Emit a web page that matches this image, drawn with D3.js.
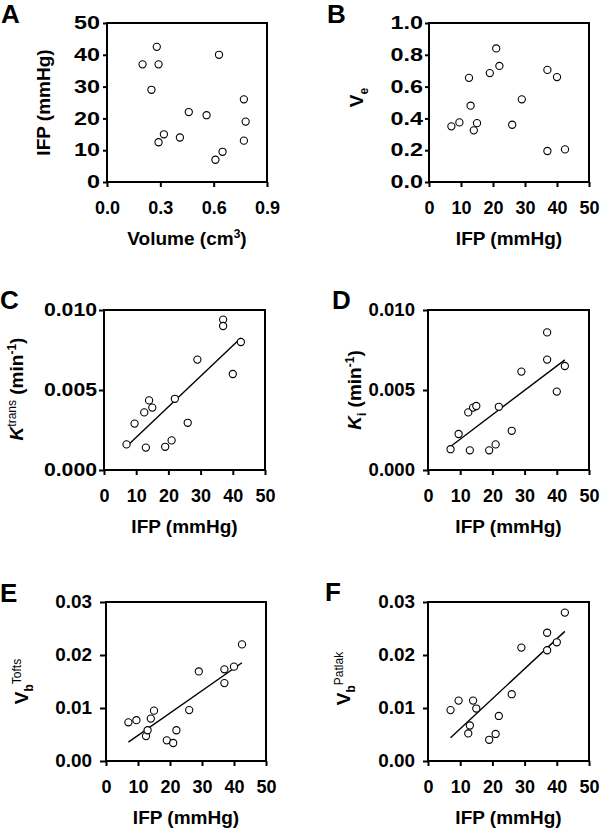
<!DOCTYPE html>
<html>
<head>
<meta charset="utf-8">
<script src="https://cdn.jsdelivr.net/npm/d3@7"></script>
<style>
  body { margin: 0; background: #fff; }
  svg { display: block; font-family: "Liberation Sans", Arial, sans-serif; }
</style>
</head>
<body>
<svg id="chart" width="600" height="829"></svg>
<script>
// IFP (mmHg) for the 15 tumours, shared x values of panels B-F
const ifp = [7, 9.5, 12.5, 13, 14, 15, 19, 21, 22, 26, 29, 37, 37, 40, 42.5];
// panel A: tumour volume (cm3)
const volume = [0.61, 0.65, 0.29, 0.77, 0.41, 0.32, 0.78, 0.56, 0.46, 0.77, 0.25, 0.20, 0.29, 0.63, 0.28];
// panel B-F y values, same order as ifp
const ve = [0.35, 0.375, 0.655, 0.48, 0.325, 0.37, 0.685, 0.84, 0.73, 0.36, 0.52, 0.705, 0.195, 0.66, 0.205];
const ktrans = [0.0016, 0.0029, 0.0036, 0.0014, 0.00435, 0.0039, 0.00145, 0.00185, 0.00445, 0.00295, 0.0069, 0.0094, 0.0090, 0.0060, 0.0080];
const ki = [0.0013, 0.00225, 0.0036, 0.00123, 0.0039, 0.0040, 0.00123, 0.0016, 0.00395, 0.00245, 0.00615, 0.0086, 0.0069, 0.0049, 0.0065];
const vbTofts = [0.0073, 0.0077, 0.0047, 0.0058, 0.0080, 0.0095, 0.0039, 0.0034, 0.0058, 0.0096, 0.0169, 0.0173, 0.0147, 0.0178, 0.0220];
const vbPatlak = [0.0096, 0.0114, 0.0052, 0.0067, 0.0114, 0.0099, 0.0040, 0.0051, 0.0085, 0.0126, 0.0214, 0.0242, 0.0209, 0.0224, 0.0280];

// tick values
const volumeTicks = [0, 0.3, 0.6, 0.9];
const ifpTicks = [0, 10, 20, 30, 40, 50];
const ifpYTicks = [0, 10, 20, 30, 40, 50];
const veTicks = [0, 0.2, 0.4, 0.6, 0.8, 1.0];
const kTicks = [0, 0.005, 0.010];
const vbTicks = [0, 0.01, 0.02, 0.03];

const svg = d3.select('#chart');

const panels = [
  { letter: 'A', lx: 1, ly: 22, box: [107, 23, 160, 159], x: volume, y: ifp,
    xDom: [0, 0.9], xTicks: volumeTicks, xFmt: '.1f', yDom: [0, 50], yTicks: ifpYTicks, yFmt: 'd',
    ytick: 4, ypad: 3, ystretch: 1.3, fit: false,
    xTitle: [{ t: 'Volume (cm' }, { t: '3', sup: true }, { t: ')' }],
    yTitle: [{ t: 'IFP (mmHg)' }], ytx: 50, ytShift: 0 },
  { letter: 'B', lx: 327, ly: 22, box: [429, 23, 160, 159], x: ifp, y: ve,
    xDom: [0, 50], xTicks: ifpTicks, xFmt: 'd', yDom: [0, 1], yTicks: veTicks, yFmt: '.1f',
    ytick: 4, ypad: 2, ystretch: 1.3, fit: false,
    xTitle: [{ t: 'IFP (mmHg)' }],
    yTitle: [{ t: 'V' }, { t: 'e', sub: true }], ytx: 363, ytShift: -5 },
  { letter: 'C', lx: 0, ly: 308, box: [104, 310, 161, 160], x: ifp, y: ktrans,
    xDom: [0, 50], xTicks: ifpTicks, xFmt: 'd', yDom: [0, 0.01], yTicks: kTicks, yFmt: '.3f',
    ytick: 5, ypad: 2, ystretch: 1.18, fit: true,
    xTitle: [{ t: 'IFP (mmHg)' }],
    yTitle: [{ t: 'K', it: true }, { t: 'trans', sup: true, light: true }, { t: ' (min' }, { t: '-1', sup: true }, { t: ')' }],
    ytx: 23, ytShift: -1 },
  { letter: 'D', lx: 332, ly: 308, box: [428, 310, 161, 160], x: ifp, y: ki,
    xDom: [0, 50], xTicks: ifpTicks, xFmt: 'd', yDom: [0, 0.01], yTicks: kTicks, yFmt: '.3f',
    ytick: 5, ypad: 8, ystretch: 1.03, fit: true,
    xTitle: [{ t: 'IFP (mmHg)' }],
    yTitle: [{ t: 'K', it: true }, { t: 'i', sub: true }, { t: ' (min' }, { t: '-1', sup: true }, { t: ')' }],
    ytx: 361, ytShift: 0 },
  { letter: 'E', lx: 0, ly: 601, box: [106, 602, 160, 159], x: ifp, y: vbTofts,
    xDom: [0, 50], xTicks: ifpTicks, xFmt: 'd', yDom: [0, 0.03], yTicks: vbTicks, yFmt: '.2f',
    ytick: 6, ypad: 8, ystretch: 1.05, fit: true,
    xTitle: [{ t: 'IFP (mmHg)' }],
    yTitle: [{ t: 'V' }, { t: 'b', sub: true }, { t: 'Tofts', sup: true, light: true }],
    ytx: 28, ytShift: 0 },
  { letter: 'F', lx: 325, ly: 600, box: [428, 602, 161, 159], x: ifp, y: vbPatlak,
    xDom: [0, 50], xTicks: ifpTicks, xFmt: 'd', yDom: [0, 0.03], yTicks: vbTicks, yFmt: '.2f',
    ytick: 5, ypad: 8, ystretch: 1.05, fit: true,
    xTitle: [{ t: 'IFP (mmHg)' }],
    yTitle: [{ t: 'V' }, { t: 'b', sub: true }, { t: 'Patlak', sup: true, light: true }],
    ytx: 350, ytShift: -3 }
];

// write rich text (italic, sub- and superscripts) as tspans
function rich(text, parts) {
  let shift = 0;
  parts.forEach(p => {
    const target = p.sup ? -7 : p.sub ? 5 : 0;
    const ts = text.append('tspan')
      .attr('dy', target - shift)
      .text(p.t);
    shift = target;
    if (p.sup || p.sub) ts.attr('font-size', 12);
    if (p.light) ts.attr('font-weight', 'normal');
    if (p.it) ts.attr('font-style', 'italic');
  });
}

panels.forEach(p => {
  const [left, top, w, h] = p.box;
  const g = svg.append('g').attr('transform', `translate(${left},${top})`);

  const x = d3.scaleLinear().domain(p.xDom).range([0, w]);
  const y = d3.scaleLinear().domain(p.yDom).range([h, 0]);

  const xAxis = g.append('g')
    .attr('transform', `translate(0,${h})`)
    .call(d3.axisBottom(x).tickValues(p.xTicks).tickFormat(d3.format(p.xFmt)).tickSize(5).tickPadding(14));

  const yAxis = g.append('g')
    .call(d3.axisLeft(y).tickValues(p.yTicks).tickFormat(d3.format(p.yFmt)).tickSize(p.ytick).tickPadding(p.ypad));

  [xAxis, yAxis].forEach(a => {
    a.select('.domain').remove();
    a.selectAll('line').attr('stroke', '#000').attr('stroke-width', 2);
    a.selectAll('text')
      .attr('fill', '#000')
      .attr('font-size', 18)
      .attr('font-weight', 'bold')
      .attr('font-family', '"Liberation Sans", Arial, sans-serif');
  });

  // the y tick numbers are set wider than the x ones in the original
  yAxis.selectAll('text')
    .attr('x', 0)
    .attr('transform', `translate(${-(p.ytick + p.ypad)},0) scale(${p.ystretch},1)`);

  // plot frame
  g.append('rect')
    .attr('width', w)
    .attr('height', h)
    .attr('fill', 'none')
    .attr('stroke', '#000')
    .attr('stroke-width', 2);

  // least-squares line over the data range
  if (p.fit) {
    const mx = d3.mean(p.x), my = d3.mean(p.y);
    const slope = d3.sum(p.x, (v, i) => (v - mx) * (p.y[i] - my)) / d3.sum(p.x, v => (v - mx) ** 2);
    const x0 = d3.min(p.x), x1 = d3.max(p.x);
    g.append('line')
      .attr('x1', x(x0)).attr('y1', y(my + slope * (x0 - mx)))
      .attr('x2', x(x1)).attr('y2', y(my + slope * (x1 - mx)))
      .attr('stroke', '#000')
      .attr('stroke-width', 1.4);
  }

  g.append('g')
    .selectAll('circle')
    .data(p.x.map((v, i) => [v, p.y[i]]))
    .join('circle')
    .attr('cx', d => x(d[0]))
    .attr('cy', d => y(d[1]))
    .attr('r', 3.6)
    .attr('fill', '#fff')
    .attr('stroke', '#000')
    .attr('stroke-width', 1.1);

  // axis titles
  const xt = svg.append('text')
    .attr('x', left + w / 2)
    .attr('y', top + h + 63)
    .attr('text-anchor', 'middle')
    .attr('font-size', 19)
    .attr('font-weight', 'bold');
  rich(xt, p.xTitle);

  const yt = svg.append('text')
    .attr('transform', `translate(${p.ytx},${top + h / 2 + p.ytShift}) rotate(-90)`)
    .attr('text-anchor', 'middle')
    .attr('font-size', 19)
    .attr('font-weight', 'bold');
  rich(yt, p.yTitle);

  // panel letter
  svg.append('text')
    .attr('x', p.lx)
    .attr('y', p.ly + 1)
    .attr('font-size', 26)
    .attr('font-weight', 'bold')
    .text(p.letter);
});
</script>
</body>
</html>
